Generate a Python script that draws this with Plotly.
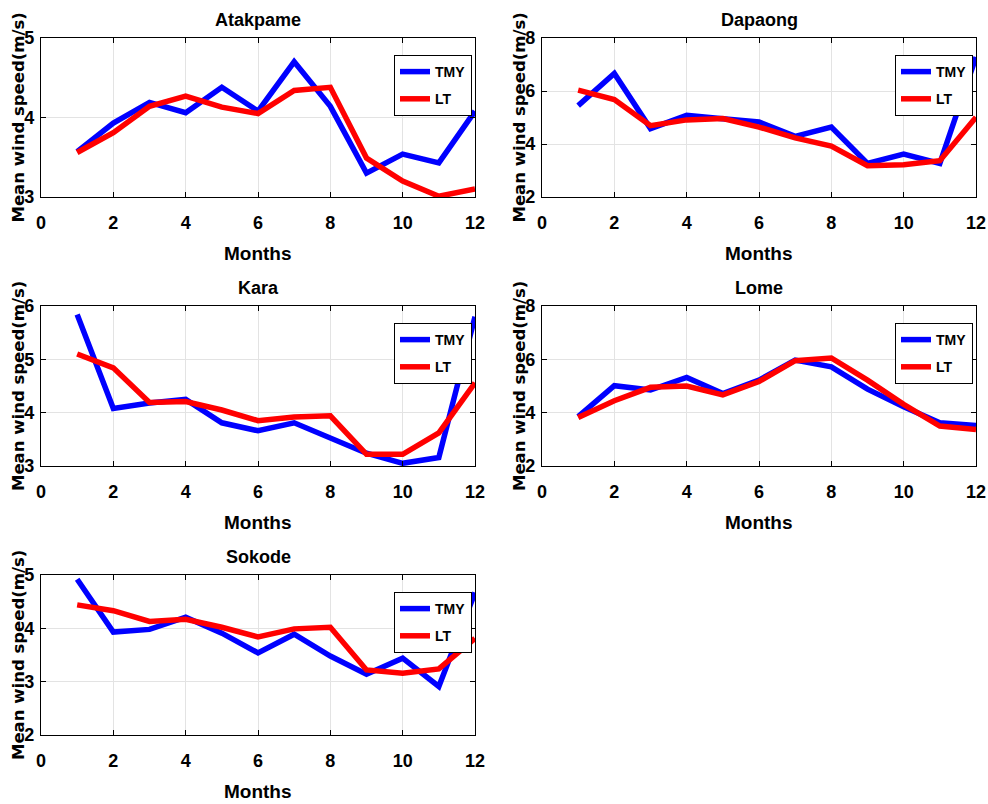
import plotly.graph_objects as go

months = list(range(1, 13))

stations = ["Atakpame", "Dapaong", "Kara", "Lome", "Sokode"]

atakpame_tmy = [3.57, 3.93, 4.19, 4.06, 4.38, 4.08, 4.70, 4.14, 3.30, 3.54, 3.43, 4.08]
atakpame_lt = [3.56, 3.81, 4.14, 4.27, 4.13, 4.05, 4.34, 4.38, 3.49, 3.20, 3.01, 3.10]

dapaong_tmy = [5.45, 6.66, 4.58, 5.08, 4.95, 4.83, 4.29, 4.64, 3.27, 3.62, 3.27, 7.28]
dapaong_lt = [6.03, 5.68, 4.69, 4.91, 4.96, 4.64, 4.23, 3.92, 3.18, 3.22, 3.37, 5.01]

kara_tmy = [5.84, 4.08, 4.18, 4.25, 3.81, 3.66, 3.81, 3.52, 3.24, 3.05, 3.16, 5.80]
kara_lt = [5.10, 4.84, 4.19, 4.21, 4.05, 3.85, 3.92, 3.94, 3.22, 3.22, 3.62, 4.56]

lome_tmy = [3.85, 5.01, 4.85, 5.32, 4.72, 5.22, 5.97, 5.72, 4.88, 4.22, 3.62, 3.52]
lome_lt = [3.82, 4.45, 4.95, 5.00, 4.67, 5.17, 5.95, 6.05, 5.22, 4.31, 3.50, 3.37]

sokode_tmy = [4.92, 3.93, 3.98, 4.21, 3.91, 3.54, 3.89, 3.48, 3.14, 3.44, 2.91, 4.67]
sokode_lt = [4.44, 4.33, 4.13, 4.17, 4.02, 3.84, 3.99, 4.02, 3.22, 3.16, 3.24, 3.81]

tmy_series = [atakpame_tmy, dapaong_tmy, kara_tmy, lome_tmy, sokode_tmy]
lt_series = [atakpame_lt, dapaong_lt, kara_lt, lome_lt, sokode_lt]
y_ranges = [[3, 5], [2, 8], [3, 6], [2, 8], [2, 5]]
y_dticks = [1, 2, 1, 2, 1]

x_ticks = [0, 2, 4, 6, 8, 10, 12]

W, H = 988, 804
# pixel geometry of plot areas (left, right, top, bottom)
cols_px = [(41, 475), (542, 976)]
rows_px = [(38, 197), (306, 466), (575, 735)]

FONT = "Liberation Sans, Arial, sans-serif"
WIDE = "DejaVu Sans, Verdana, sans-serif"


def px(xp):
    return xp / W


def py(yp):
    return 1 - yp / H


fig = go.Figure()
annotations = []
layout = dict(
    width=W, height=H,
    margin=dict(l=0, r=0, t=0, b=0, autoexpand=False),
    paper_bgcolor="white", plot_bgcolor="white",
    showlegend=True,
)

for i, name in enumerate(stations):
    r, c = divmod(i, 2)
    x0, x1 = cols_px[c]
    t0, t1 = rows_px[r]
    dom_x = [px(x0), px(x1)]
    dom_y = [py(t1), py(t0)]
    sfx = "" if i == 0 else str(i + 1)
    leg = "legend" if i == 0 else f"legend{i + 1}"

    fig.add_trace(go.Scatter(
        x=months, y=tmy_series[i], mode="lines", name="TMY",
        line=dict(color="#0000FF", width=5.5),
        xaxis="x" + sfx, yaxis="y" + sfx, legend=leg, legendgroup=f"tmy{i}",
    ))
    fig.add_trace(go.Scatter(
        x=months, y=lt_series[i], mode="lines", name="LT",
        line=dict(color="#FF0000", width=5.5),
        xaxis="x" + sfx, yaxis="y" + sfx, legend=leg, legendgroup=f"lt{i}",
    ))

    common = dict(
        showline=True, linecolor="black", linewidth=1.2, mirror="allticks",
        ticks="inside", ticklen=5, tickcolor="black", tickwidth=1,
        showgrid=True, gridcolor="#e3e3e3", gridwidth=1,
        zeroline=False, automargin=False,
        tickfont=dict(family=FONT, size=18, color="black", weight="bold"),
    )
    layout["xaxis" + sfx] = dict(
        common, domain=dom_x, range=[0, 12], tickvals=x_ticks,
        anchor="y" + sfx, ticklabelstandoff=9,
    )
    layout["yaxis" + sfx] = dict(
        common, domain=dom_y, range=y_ranges[i], dtick=y_dticks[i], tick0=0,
        anchor="x" + sfx, ticklabelstandoff=2,
    )
    layout[leg] = dict(
        x=px(x0 + 353), y=py(t0 + 17), xanchor="left", yanchor="top",
        bgcolor="white", bordercolor="black", borderwidth=1,
        font=dict(family=FONT, size=14, color="black", weight="bold"),
        itemwidth=30, tracegroupgap=6,
        entrywidth=58, entrywidthmode="pixels",
    )

    cx = (x0 + x1) / 2
    # title
    annotations.append(dict(
        text=f"<b>{name}</b>", x=px(cx), y=py(t0 - 18), xref="paper", yref="paper",
        showarrow=False, xanchor="center", yanchor="middle",
        font=dict(family=FONT, size=18, color="black"),
    ))
    # x title
    annotations.append(dict(
        text="<b>Months</b>", x=px(cx), y=py(t1 + 56), xref="paper", yref="paper",
        showarrow=False, xanchor="center", yanchor="middle",
        font=dict(family=FONT, size=19, color="black"),
    ))
    # y title
    annotations.append(dict(
        text="<b>Mean wind speed(m/s)</b>", x=px(x0 - 23), y=py((t0 + t1) / 2),
        xref="paper", yref="paper", textangle=-90,
        showarrow=False, xanchor="center", yanchor="middle",
        font=dict(family=WIDE, size=16.5, color="black"),
    ))

layout["annotations"] = annotations
fig.update_layout(**layout)

# remove the default page margin so the 988x804 figure fills the window exactly
fig.write_html(
    "out.html",
    config={"displayModeBar": False},
    post_script="document.body.style.margin='0px';document.body.style.overflow='hidden';",
)
